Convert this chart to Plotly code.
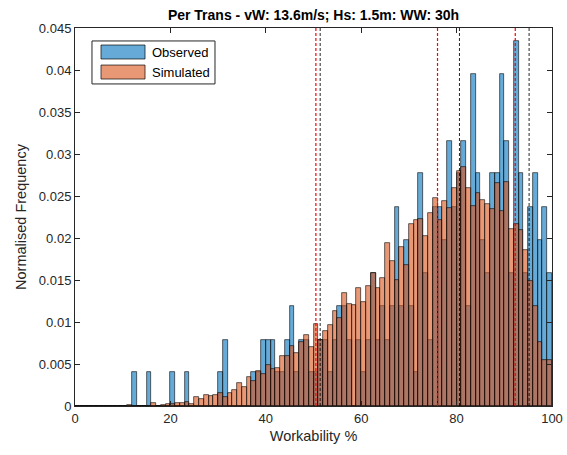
import plotly.graph_objects as go

# Workability histograms, one value per 1%-wide bin (0-1, 1-2, ..., 99-100)
bin_left = list(range(100))

observed = [
    0, 0, 0, 0, 0, 0, 0, 0, 0, 0,
    0, 0, 0.0040, 0, 0, 0.0040, 0, 0, 0, 0,
    0.0040, 0, 0, 0.0040, 0, 0, 0, 0, 0, 0,
    0.0040, 0.0079, 0, 0, 0, 0, 0, 0.0040, 0.0040, 0.0079,
    0.0079, 0.0079, 0.0040, 0.0040, 0.0079, 0.0119, 0.0040, 0.0079, 0.0079, 0.0040,
    0.0040, 0.0079, 0.0079, 0.0040, 0.0079, 0.0119, 0.0119, 0.0079, 0, 0.0079,
    0.0040, 0.0079, 0.0158, 0.0079, 0.0119, 0.0079, 0.0119, 0.0237, 0.0119, 0.0198,
    0.0119, 0.0040, 0.0277, 0.0158, 0.0079, 0.0237, 0.0237, 0.0198, 0.0316, 0.0237,
    0.0277, 0.0316, 0.0119, 0.0395, 0.0277, 0.0198, 0.0158, 0.0277, 0.0277, 0.0395,
    0.0316, 0.0158, 0.0435, 0.0277, 0.0158, 0.0237, 0.0277, 0.0198, 0.0237, 0.0158,
]

simulated = [
    0, 0, 0, 0, 0, 0, 0, 0, 0, 0,
    0, 0.0001, 0, 0, 0, 0, 0.0003, 0, 0.0001, 0.0002,
    0.0002, 0.0004, 0.0004, 0.0005, 0.0002, 0.0011, 0.0008, 0.0013, 0.0012, 0.0013,
    0.0015, 0.0011, 0.0015, 0.0019, 0.0027, 0.0023, 0.0035, 0.0030, 0.0042, 0.0038,
    0.0049, 0.0044, 0.0045, 0.0059, 0.0059, 0.0072, 0.0063, 0.0076, 0.0084, 0.0070,
    0.0098, 0.0078, 0.0089, 0.0097, 0.0113, 0.0105, 0.0135, 0.0121, 0.0120, 0.0141,
    0.0124, 0.0143, 0.0158, 0.0140, 0.0152, 0.0194, 0.0173, 0.0150, 0.0189, 0.0168,
    0.0217, 0.0222, 0.0223, 0.0202, 0.0230, 0.0248, 0.0222, 0.0244, 0.0236, 0.0260,
    0.0280, 0.0284, 0.0259, 0.0238, 0.0254, 0.0245, 0.0241, 0.0234, 0.0266, 0.0232,
    0.0267, 0.0211, 0.0217, 0.0210, 0.0186, 0.0149, 0.0119, 0.0076, 0.0055, 0.0055,
]

# Reference percentile markers
red_marks = [50.5, 76.0, 92.3]
black_marks = [51.4, 80.6, 95.2]

x_ticks = [0, 20, 40, 60, 80, 100]
y_ticks = [0, 0.005, 0.01, 0.015, 0.02, 0.025, 0.03, 0.035, 0.04, 0.045]
y_tick_text = ["0", "0.005", "0.01", "0.015", "0.02", "0.025", "0.03", "0.035", "0.04", "0.045"]

BLUE = "rgba(0,114,189,0.6)"
ORANGE = "rgba(217,83,25,0.6)"
EDGE = "rgba(0,0,0,0.85)"
TEXT = "rgb(38,38,38)"
FONT = "Liberation Sans, Arial, sans-serif"

centers = [b + 0.5 for b in bin_left]

fig = go.Figure()
fig.add_trace(go.Bar(x=centers, y=observed, width=1, name="Observed",
                     marker=dict(color=BLUE, line=dict(color=EDGE, width=0.7))))
fig.add_trace(go.Bar(x=centers, y=simulated, width=1, name="Simulated",
                     marker=dict(color=ORANGE, line=dict(color=EDGE, width=0.7))))

for v in black_marks:
    fig.add_shape(type="line", xref="x", yref="paper", x0=v, x1=v, y0=0, y1=1,
                  line=dict(color="rgba(0,0,0,0.85)", width=1, dash="3px,2px"))
for v in red_marks:
    fig.add_shape(type="line", xref="x", yref="paper", x0=v, x1=v, y0=0, y1=1,
                  line=dict(color="rgb(255,0,0)", width=1.2, dash="3px,2px"))

# Legend box with wide swatches
fig.add_shape(type="rect", xref="paper", yref="paper", x0=0.0356, x1=0.2935,
              y0=0.852, y1=0.9657, line=dict(color=TEXT, width=1),
              fillcolor="white", layer="above")
legend_rows = [("Observed", BLUE, 0.918, 0.955), ("Simulated", ORANGE, 0.865, 0.902)]
for label, col, y0, y1 in legend_rows:
    fig.add_shape(type="rect", xref="paper", yref="paper", x0=0.0545, x1=0.1468,
                  y0=y0, y1=y1, fillcolor=col, line=dict(color=EDGE, width=0.8),
                  layer="above")
    fig.add_annotation(xref="paper", yref="paper", x=0.157, y=(y0 + y1) / 2,
                       text=label, showarrow=False, xanchor="left", yanchor="middle",
                       font=dict(family=FONT, size=13, color="black"))

fig.update_layout(
    width=567, height=455,
    margin=dict(l=75, r=15, t=28, b=49, autoexpand=False),
    paper_bgcolor="white", plot_bgcolor="white",
    barmode="overlay", bargap=0,
    showlegend=False,
    font=dict(family=FONT, size=13, color=TEXT),
    title=dict(text="<b>Per Trans - vW: 13.6m/s; Hs: 1.5m: WW: 30h</b>",
               x=0.5, xref="paper", xanchor="center",
               y=1 - 15 / 455, yref="container", yanchor="middle",
               font=dict(family=FONT, size=14, color="black")),
)
fig.update_xaxes(range=[0, 100], tickvals=x_ticks, ticks="inside", ticklen=5,
                 tickcolor=TEXT, showline=True, linecolor=TEXT, linewidth=1,
                 mirror="allticks", showgrid=False, zeroline=False, automargin=False,
                 tickfont=dict(size=13, color=TEXT),
                 title=dict(text="Workability %", standoff=6,
                            font=dict(size=14.5, color=TEXT)))
fig.update_yaxes(range=[0, 0.045], tickvals=y_ticks, ticktext=y_tick_text,
                 ticks="inside", ticklen=5, tickcolor=TEXT, showline=True,
                 linecolor=TEXT, linewidth=1, mirror="allticks", showgrid=False,
                 zeroline=False, automargin=False, tickfont=dict(size=13, color=TEXT),
                 title=dict(text="Normalised Frequency", standoff=8,
                            font=dict(size=14.5, color=TEXT)))

fig.write_html("out.html")
